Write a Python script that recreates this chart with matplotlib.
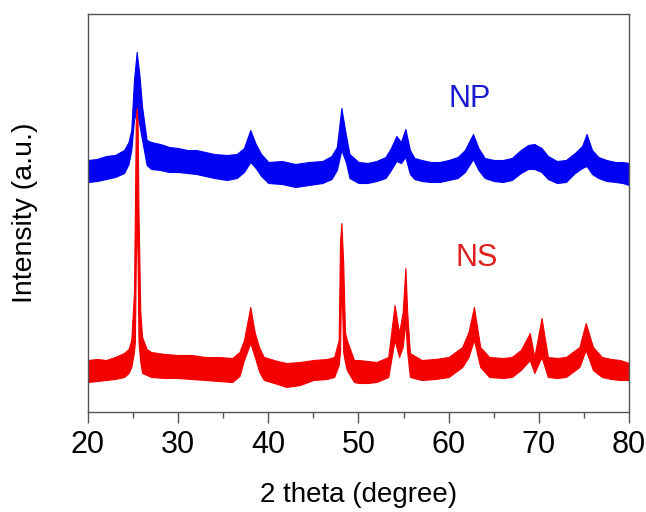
import matplotlib
matplotlib.use("Agg")
import matplotlib.pyplot as plt
from matplotlib.ticker import MultipleLocator

plt.rcParams["font.family"] = ["Liberation Sans", "DejaVu Sans"]

# NP pattern: 2theta and the noise band (lower / upper envelope), arbitrary units
np_theta = [20.0, 21.0, 22.0, 23.0, 24.0, 24.5, 24.8, 25.1, 25.4, 25.7, 26.0, 26.5,
            27.0, 28.0, 29.0, 30.0, 31.0, 32.0, 33.0, 34.0, 35.4, 36.5, 37.3, 38.0,
            38.6, 39.2, 40.0, 41.5, 43.0, 44.5, 46.0, 47.0, 47.6, 48.1, 48.6, 49.0,
            50.0, 51.0, 52.0, 53.0, 53.6, 54.2, 54.7, 55.2, 55.7, 56.2, 57.0, 58.0,
            59.0, 60.0, 61.0, 61.8, 62.7, 63.3, 64.0, 65.0, 66.0, 67.0, 68.0, 68.8,
            69.5, 70.3, 71.0, 72.0, 73.0, 74.0, 74.8, 75.3, 75.9, 76.6, 77.5, 78.5,
            79.3, 80.0]
np_upper = [252, 253, 256, 257, 262, 270, 282, 332, 360, 337, 305, 272,
            270, 268, 265, 264, 262, 262, 260, 258, 257, 258, 264, 282,
            268, 258, 250, 251, 248, 250, 251, 256, 265, 304, 277, 258,
            250, 249, 251, 255, 264, 276, 270, 283, 262, 254, 252, 250,
            250, 252, 255, 262, 278, 264, 254, 252, 252, 254, 262, 267,
            268, 264, 256, 251, 252, 259, 266, 278, 262, 255, 252, 250,
            250, 249]
np_lower = [230, 231, 233, 235, 239, 248, 262, 292, 302, 287, 272, 247,
            243, 242, 240, 240, 239, 238, 236, 234, 232, 234, 240, 250,
            244, 236, 229, 228, 225, 227, 229, 233, 242, 262, 250, 234,
            229, 229, 231, 234, 242, 251, 249, 255, 238, 233, 231, 230,
            230, 232, 234, 240, 253, 242, 234, 231, 230, 232, 239, 243,
            243, 240, 233, 229, 230, 239, 244, 246, 238, 234, 231, 230,
            229, 227]

# NS pattern
ns_theta = [20.0, 21.0, 22.0, 23.0, 24.0, 24.5, 24.8, 25.1, 25.2, 25.3, 25.4, 25.5,
            25.6, 25.8, 26.0, 26.5, 27.0, 28.5, 30.0, 31.5, 33.0, 34.5, 36.0, 36.8,
            37.3, 38.0, 38.5, 39.0, 39.5, 41.0, 42.0, 43.5, 45.0, 46.5, 47.3, 47.8,
            47.95, 48.1, 48.3, 48.5, 48.7, 49.5, 50.0, 51.0, 52.0, 53.3, 54.0, 54.5,
            54.9, 55.2, 55.4, 55.7, 57.0, 58.5, 60.0, 61.5, 62.2, 62.8, 63.5, 64.5,
            66.0, 67.0, 68.0, 69.0, 69.5, 70.3, 71.0, 72.0, 73.0, 74.5, 75.2, 76.0,
            77.0, 78.0, 79.0, 80.0]
ns_upper = [52, 53, 52, 55, 59, 63, 72, 120, 200, 290, 304, 290,
            200, 100, 75, 63, 60, 58, 57, 57, 55, 55, 54, 60,
            72, 105, 79, 64, 55, 51, 49, 50, 52, 53, 55, 72,
            170, 189, 150, 80, 72, 52, 52, 51, 50, 55, 107, 79,
            100, 144, 100, 59, 52, 53, 55, 65, 80, 105, 65, 55,
            54, 55, 62, 79, 55, 94, 55, 54, 55, 65, 89, 65,
            55, 53, 52, 49]
ns_lower = [30, 31, 32, 33, 35, 39, 45, 60, 70, 150, 200, 150,
            70, 50, 39, 37, 35, 34, 34, 33, 32, 31, 30, 36,
            52, 69, 55, 40, 32, 28, 25, 27, 32, 33, 35, 47,
            60, 140, 60, 50, 42, 30, 29, 29, 30, 35, 72, 55,
            65, 90, 60, 35, 32, 33, 35, 45, 55, 72, 45, 35,
            34, 35, 42, 52, 39, 55, 35, 34, 35, 45, 62, 42,
            35, 33, 32, 32]

fig = plt.figure(figsize=(6.46, 5.12), dpi=100)
ax = fig.add_axes([88 / 646, 100 / 512, 541 / 646, 398 / 512])

ax.fill_between(np_theta, np_lower, np_upper, color="#0000f5", lw=0.8, edgecolor="#0000f5")
ax.fill_between(ns_theta, ns_lower, ns_upper, color="#f50000", lw=0.8, edgecolor="#f50000")

ax.text(62.3, 313, "NP", color="#1a1ad0", fontsize=22, ha="center", va="center")
ax.text(63.1, 154, "NS", color="#e02020", fontsize=22, ha="center", va="center")

ax.set_xlim(20, 80)
ax.set_ylim(0, 398)
ax.xaxis.set_major_locator(MultipleLocator(10))
ax.xaxis.set_minor_locator(MultipleLocator(5))
ax.set_yticks([])
ax.tick_params(axis="x", which="major", direction="out", length=8, width=1,
               color="#555555", labelsize=22, pad=5)
ax.tick_params(axis="x", which="minor", direction="out", length=4, width=1,
               color="#555555")
for s in ax.spines.values():
    s.set_color("#555555")
    s.set_linewidth(1.0)

ax.set_xlabel("2 theta (degree)", fontsize=20, labelpad=16)
ax.set_ylabel("Intensity (a.u.)", fontsize=20.5, labelpad=36)

fig.savefig("out.png", dpi=100)
